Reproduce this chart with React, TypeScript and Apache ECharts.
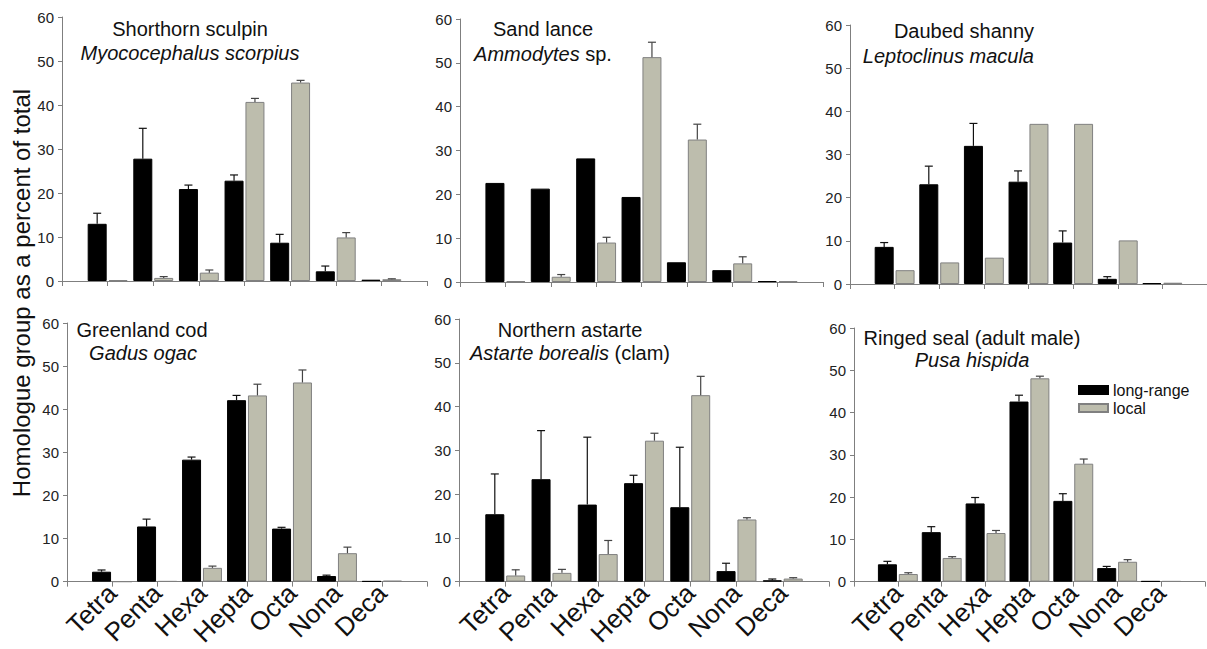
import React, { useEffect, useRef } from "react";
import * as echarts from "echarts";

// ---------- DATA ----------
const categories = ["", "Tetra", "Penta", "Hexa", "Hepta", "Octa", "Nona", "Deca", ""];

const sculpinLong = [13.0, 27.8, 20.9, 22.8, 8.7, 2.2, 0.3];
const sculpinLongErr = [2.4, 6.9, 0.9, 1.3, 1.9, 1.2, 0];
const sculpinLocal = [0.2, 0.7, 1.9, 40.7, 45.1, 9.9, 0.4];
const sculpinLocalErr = [0, 0.3, 0.6, 0.8, 0.5, 1.1, 0.1];

const sandLong = [22.6, 21.3, 28.2, 19.4, 4.5, 2.7, 0.2];
const sandLongErr = [0, 0, 0, 0, 0, 0, 0];
const sandLocal = [0.2, 1.2, 9.0, 51.3, 32.5, 4.25, 0.2];
const sandLocalErr = [0, 0.5, 1.2, 3.4, 3.5, 1.5, 0];

const shannyLong = [8.6, 23.1, 32.0, 23.7, 9.6, 1.2, 0.2];
const shannyLongErr = [1.0, 4.2, 5.2, 2.5, 2.7, 0.5, 0];
const shannyLocal = [3.2, 5.0, 6.1, 37.1, 37.1, 10.1, 0.3];
const shannyLocalErr = [0, 0, 0, 0, 0, 0, 0];

const codLong = [2.3, 12.8, 28.3, 42.1, 12.3, 1.3, 0.1];
const codLongErr = [0.4, 1.7, 0.6, 1.1, 0.3, 0.2, 0];
const codLocal = [0, 0.1, 3.2, 43.2, 46.2, 6.6, 0.2];
const codLocalErr = [0, 0, 0.4, 2.6, 2.9, 1.4, 0];

const astarteLong = [15.4, 23.4, 17.6, 22.5, 17.0, 2.4, 0.3];
const astarteLongErr = [9.2, 11.1, 15.4, 1.8, 13.7, 1.8, 0.3];
const astarteLocal = [1.4, 2.0, 6.3, 32.2, 42.6, 14.2, 0.7];
const astarteLocalErr = [1.3, 0.8, 3.1, 1.7, 4.3, 0.4, 0.2];

const sealLong = [4.1, 11.7, 18.5, 42.6, 19.1, 3.2, 0.1];
const sealLongErr = [0.7, 1.3, 1.4, 1.5, 1.7, 0.4, 0];
const sealLocal = [1.8, 5.6, 11.5, 48.1, 27.9, 4.7, 0.1];
const sealLocalErr = [0.3, 0.3, 0.6, 0.5, 1.1, 0.5, 0];

const seriesNames = ["long-range", "local"];
const yAxisTitle = "Homologue group as a percent of total";

// ---------- LAYOUT ----------
const FONT = "'Liberation Sans', Arial, sans-serif";
const BAR_W = 19;
const OFFSET = (BAR_W * 1.1) / 2;

const panels = [
  { long: sculpinLong, longErr: sculpinLongErr, local: sculpinLocal, localErr: sculpinLocalErr,
    grid: { left: 62, top: 17, width: 365, height: 264 }, labels: false,
    t1: { text: "Shorthorn sculpin", x: 190, y: 29, align: "center" },
    t2: { text: "{i|Myococephalus scorpius}", x: 190, y: 53, align: "center" } },
  { long: sandLong, longErr: sandLongErr, local: sandLocal, localErr: sandLocalErr,
    grid: { left: 460, top: 19, width: 363, height: 263 }, labels: false,
    t1: { text: "Sand lance", x: 543, y: 29, align: "center" },
    t2: { text: "{i|Ammodytes} sp.", x: 543, y: 54, align: "center" } },
  { long: shannyLong, longErr: shannyLongErr, local: shannyLocal, localErr: shannyLocalErr,
    grid: { left: 850, top: 25, width: 362, height: 259 }, labels: false,
    t1: { text: "Daubed shanny", x: 1034, y: 31, align: "right" },
    t2: { text: "{i|Leptoclinus macula}", x: 1034, y: 56, align: "right" } },
  { long: codLong, longErr: codLongErr, local: codLocal, localErr: codLocalErr,
    grid: { left: 67, top: 323, width: 360, height: 260 }, labels: true,
    t1: { text: "Greenland cod", x: 142, y: 330, align: "center" },
    t2: { text: "{i|Gadus ogac}", x: 143, y: 353, align: "center" } },
  { long: astarteLong, longErr: astarteLongErr, local: astarteLocal, localErr: astarteLocalErr,
    grid: { left: 459, top: 319, width: 370, height: 265 }, labels: true,
    t1: { text: "Northern astarte", x: 570, y: 330, align: "center" },
    t2: { text: "{i|Astarte borealis} (clam)", x: 570, y: 353, align: "center" } },
  { long: sealLong, longErr: sealLongErr, local: sealLocal, localErr: sealLocalErr,
    grid: { left: 854, top: 328, width: 362, height: 259 }, labels: true,
    t1: { text: "Ringed seal (adult male)", x: 972, y: 338, align: "center" },
    t2: { text: "{i|Pusa hispida}", x: 972, y: 360, align: "center" } },
];

const pad = (arr: number[]) => [null, ...arr, null];

function buildOption() {
  const grids: any[] = [];
  const xAxes: any[] = [];
  const yAxes: any[] = [];
  const series: any[] = [];
  const graphics: any[] = [];

  panels.forEach((p, i) => {
    grids.push({ ...p.grid, containLabel: false });
    xAxes.push({
      type: "category",
      gridIndex: i,
      data: categories,
      boundaryGap: false,
      axisLine: { lineStyle: { color: "#7f7f7f", width: 1 } },
      axisTick: { show: true, length: 5, interval: 0, lineStyle: { color: "#7f7f7f" } },
      axisLabel: {
        show: p.labels,
        interval: 0,
        rotate: 45,
        fontSize: 26,
        fontFamily: FONT,
        color: "#111",
        margin: 7,
      },
      splitLine: { show: false },
    });
    yAxes.push({
      type: "value",
      gridIndex: i,
      min: 0,
      max: 60,
      interval: 10,
      axisLine: { show: true, lineStyle: { color: "#7f7f7f", width: 1 } },
      axisTick: { show: true, length: 4, lineStyle: { color: "#7f7f7f" } },
      axisLabel: { fontSize: 15, fontFamily: FONT, color: "#222", margin: 8 },
      splitLine: { show: false },
    });
    series.push({
      name: seriesNames[0],
      type: "bar",
      xAxisIndex: i,
      yAxisIndex: i,
      data: pad(p.long),
      barWidth: BAR_W,
      barGap: "10%",
      itemStyle: { color: "#000000", borderColor: "#000000", borderWidth: 1 },
    });
    series.push({
      name: seriesNames[1],
      type: "bar",
      xAxisIndex: i,
      yAxisIndex: i,
      data: pad(p.local),
      barWidth: BAR_W,
      barGap: "10%",
      itemStyle: { color: "#bdbdad", borderColor: "#808080", borderWidth: 1 },
    });
    const errData: any[] = [];
    p.long.forEach((v, k) => errData.push([k + 1, v, p.longErr[k], -1]));
    p.local.forEach((v, k) => errData.push([k + 1, v, p.localErr[k], 1]));
    series.push({
      type: "custom",
      xAxisIndex: i,
      yAxisIndex: i,
      z: 5,
      silent: true,
      encode: { x: 0, y: 1 },
      data: errData,
      renderItem: (params: any, api: any) => {
        const idx = api.value(0);
        const v = api.value(1);
        const e = api.value(2);
        const side = api.value(3);
        if (!e || e <= 0) return null;
        const base = api.coord([idx, v]);
        const top = api.coord([idx, v + e]);
        const x = base[0] + side * OFFSET;
        const col = side < 0 ? "#111" : "#444";
        return {
          type: "group",
          children: [
            { type: "line", shape: { x1: x, y1: base[1], x2: x, y2: top[1] }, style: { stroke: col, lineWidth: 1.2 } },
            { type: "line", shape: { x1: x - 4, y1: top[1], x2: x + 4, y2: top[1] }, style: { stroke: col, lineWidth: 1.2 } },
          ],
        };
      },
    });
    const ita = { i: { fontStyle: "italic", fontSize: 20, fontFamily: FONT, fill: "#111" } };
    graphics.push({
      type: "text",
      x: p.t1.x,
      y: p.t1.y,
      style: { text: p.t1.text, fontSize: 20, fontFamily: FONT, fill: "#111", align: p.t1.align, verticalAlign: "middle" },
    });
    graphics.push({
      type: "text",
      x: p.t2.x,
      y: p.t2.y,
      style: { text: p.t2.text, rich: ita, fontSize: 20, fontFamily: FONT, fill: "#111", align: p.t2.align, verticalAlign: "middle" },
    });
  });

  graphics.push({
    type: "text",
    x: 21,
    y: 293,
    rotation: Math.PI / 2,
    style: { text: yAxisTitle, fontSize: 24, fontFamily: FONT, fill: "#111", align: "center", verticalAlign: "middle" },
  });

  return {
    animation: false,
    backgroundColor: "#ffffff",
    grid: grids,
    xAxis: xAxes,
    yAxis: yAxes,
    series,
    graphic: graphics,
    legend: {
      data: seriesNames,
      orient: "vertical",
      left: 1073,
      top: 377,
      icon: "rect",
      itemWidth: 29,
      itemHeight: 8,
      itemGap: 2,
      textStyle: { fontSize: 16, fontFamily: FONT, color: "#111" },
    },
  };
}

export default function App() {
  const ref = useRef<HTMLDivElement>(null);
  useEffect(() => {
    if (!ref.current) return;
    const chart = echarts.init(ref.current, null, { renderer: "svg" });
    chart.setOption(buildOption() as any);
    return () => chart.dispose();
  }, []);
  return (
    <div
      ref={ref}
      style={{ position: "fixed", left: 0, top: 0, width: 1207, height: 649, background: "#fff" }}
    />
  );
}
